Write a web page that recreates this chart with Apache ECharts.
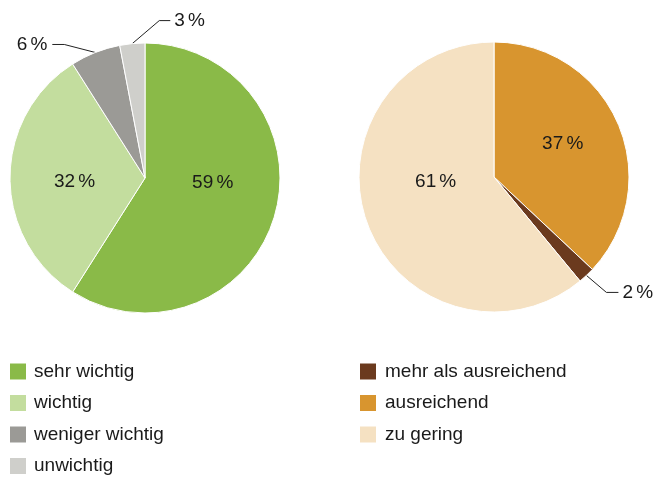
<!DOCTYPE html>
<html>
<head>
<meta charset="utf-8">
<script src="https://cdn.jsdelivr.net/npm/echarts@6/dist/echarts.min.js"></script>
<style>
  html, body { margin: 0; padding: 0; background: #fff; }
  #main { width: 655px; height: 478px; }
</style>
</head>
<body>
<div id="main"></div>
<script>
// Wichtigkeit
var leftNames = ['sehr wichtig', 'wichtig', 'weniger wichtig', 'unwichtig'];
var leftValues = [59, 32, 6, 3];
var leftColors = ['#8aba48', '#c3dd9e', '#9b9a96', '#cfcfcb'];

// Angebot (Reihenfolge im Uhrzeigersinn)
var rightNames = ['ausreichend', 'mehr als ausreichend', 'zu gering'];
var rightValues = [37, 2, 61];
var rightColors = ['#d8952f', '#6b3a1e', '#f5e1c2'];
var rightLegend = ['mehr als ausreichend', 'ausreichend', 'zu gering'];

var fontFamily = '"Liberation Sans", Arial, sans-serif';

// Beschriftung außen: Knick und Textposition relativ zum Randpunkt des Segments
var outsideLabels = {
    'weniger wichtig': { knee: [-31, -8], end: [-43, -8], align: 'right' },
    'unwichtig': { knee: [27, -23], end: [38, -23], align: 'left' },
    'mehr als ausreichend': { knee: [20, 17], end: [32, 17], align: 'left' }
};
// kleine Korrekturen der inneren Beschriftungen
var innerOffsets = {
    'sehr wichtig': [0, -15],
    'wichtig': [0, 4],
    'ausreichend': [4, -5],
    'zu gering': [8, -19]
};

function pct(p) {
    return p.value + '\u2006%';
}

function makeData(names, values, colors) {
    var out = [];
    for (var i = 0; i < names.length; i++) {
        var item = {
            name: names[i],
            value: values[i],
            itemStyle: { color: colors[i] }
        };
        if (outsideLabels[names[i]]) {
            item.label = { position: 'outside' };
            item.labelLine = { show: true, length: 10, length2: 10 };
        } else if (innerOffsets[names[i]]) {
            item.label = { offset: innerOffsets[names[i]] };
        }
        out.push(item);
    }
    return out;
}

function makeLabelLayout(names) {
    return function (params) {
        var cfg = outsideLabels[names[params.dataIndex]];
        if (!cfg || !params.labelLinePoints) return;
        var p0 = params.labelLinePoints[0];
        var knee = [p0[0] + cfg.knee[0], p0[1] + cfg.knee[1]];
        var end = [p0[0] + cfg.end[0], p0[1] + cfg.end[1]];
        return {
            x: end[0] + (cfg.align === 'left' ? 4 : -5),
            y: end[1],
            align: cfg.align,
            verticalAlign: 'middle',
            labelLinePoints: [p0, knee, end]
        };
    };
}

var myChart = echarts.init(document.getElementById('main'));

function baseSeries() {
    return {
        type: 'pie',
        radius: 135,
        startAngle: 90,
        clockwise: true,
        avoidLabelOverlap: false,
        itemStyle: { borderColor: '#fff', borderWidth: 1 },
        label: {
            show: true,
            position: 'inside',
            formatter: pct,
            color: '#1a1a1a',
            fontSize: 19,
            fontFamily: fontFamily
        },
        labelLine: {
            show: false,
            lineStyle: { color: '#222', width: 1 }
        },
        emphasis: { disabled: true }
    };
}

var legendText = { fontSize: 19, lineHeight: 19, color: '#1a1a1a', fontFamily: fontFamily };

var leftSeries = baseSeries();
leftSeries.name = 'Wichtigkeit';
leftSeries.center = [145, 178];
leftSeries.data = makeData(leftNames, leftValues, leftColors);
leftSeries.labelLayout = makeLabelLayout(leftNames);

var rightSeries = baseSeries();
rightSeries.name = 'Angebot';
rightSeries.center = [494, 177];
rightSeries.data = makeData(rightNames, rightValues, rightColors);
rightSeries.labelLayout = makeLabelLayout(rightNames);

var option = {
    animation: false,
    backgroundColor: '#fff',
    legend: [
        {
            data: leftNames,
            orient: 'vertical',
            left: 10,
            top: 362,
            height: 116,
            padding: 0,
            itemWidth: 16,
            itemHeight: 16,
            itemGap: 12.5,
            icon: 'rect',
            itemStyle: { borderWidth: 0 },
            selectedMode: false,
            textStyle: echarts.util.extend({ padding: [0, 0, 0, 3] }, legendText)
        },
        {
            data: rightLegend,
            orient: 'vertical',
            left: 360,
            top: 362,
            height: 116,
            padding: 0,
            itemWidth: 16,
            itemHeight: 16,
            itemGap: 12.5,
            icon: 'rect',
            itemStyle: { borderWidth: 0 },
            selectedMode: false,
            textStyle: echarts.util.extend({ padding: [0, 0, 0, 4] }, legendText)
        }
    ],
    series: [leftSeries, rightSeries]
};

myChart.setOption(option);
</script>
</body>
</html>
